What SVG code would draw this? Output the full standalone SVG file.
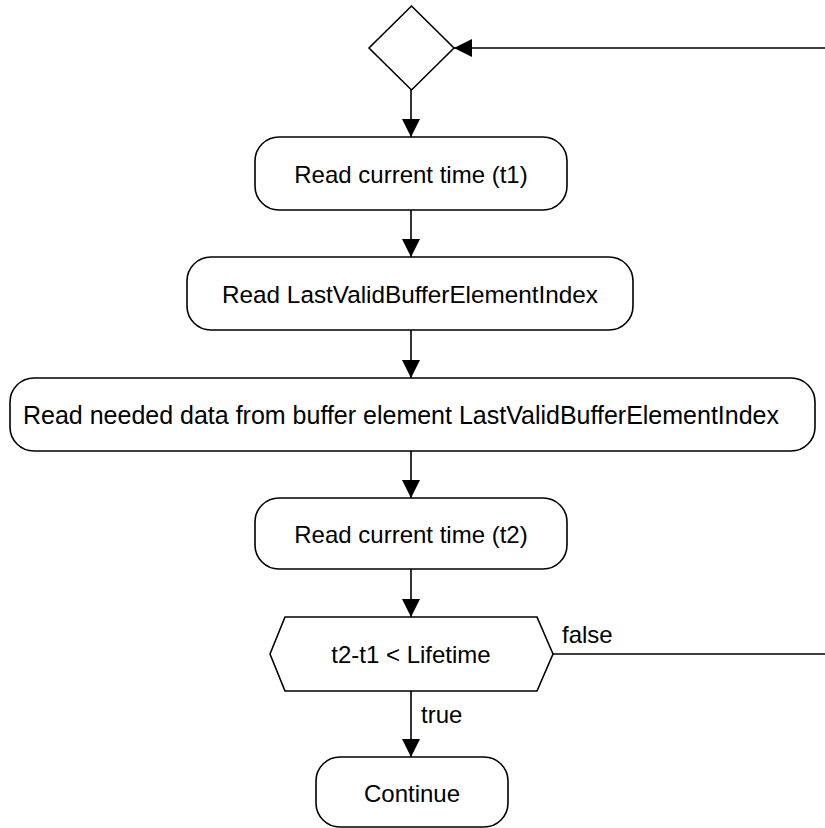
<svg xmlns="http://www.w3.org/2000/svg" width="825" height="828" viewBox="0 0 825 828">
  <style>
    .shape { fill: #ffffff; stroke: #000000; stroke-width: 1.6; }
    .edge { fill: none; stroke: #000000; stroke-width: 1.6; }
    .label { font-family: "Liberation Sans", Arial, sans-serif; font-size: 24px; fill: #000000; }
    .mid { text-anchor: middle; }
  </style>
  <defs>
    <marker id="arrow" viewBox="0 0 18 18" refX="18" refY="9" markerWidth="18" markerHeight="18" markerUnits="userSpaceOnUse" orient="auto">
      <path d="M0,0 L18,9 L0,18 Z" fill="#000000"/>
    </marker>
  </defs>

  <rect width="825" height="828" fill="#ffffff"/>

  <!-- connectors -->
  <g id="connectors">
    <line class="edge" x1="411" y1="90" x2="411" y2="137" marker-end="url(#arrow)"/>
    <line class="edge" x1="411" y1="210" x2="411" y2="257" marker-end="url(#arrow)"/>
    <line class="edge" x1="411" y1="330" x2="411" y2="378" marker-end="url(#arrow)"/>
    <line class="edge" x1="411" y1="451" x2="411" y2="498" marker-end="url(#arrow)"/>
    <line class="edge" x1="411" y1="569" x2="411" y2="617" marker-end="url(#arrow)"/>
    <line class="edge" x1="411" y1="691" x2="411" y2="757" marker-end="url(#arrow)"/>
    <!-- loop back: false branch leaves to the right, returns into the merge diamond -->
    <line class="edge" x1="553" y1="654" x2="826" y2="654"/>
    <line class="edge" x1="826" y1="48" x2="454" y2="48" marker-end="url(#arrow)"/>
    <text class="label" x="562" y="643">false</text>
    <text class="label" x="421" y="723">true</text>
  </g>

  <g id="merge">
    <polygon class="shape" points="411.5,6 454,48 411.5,90 369,48"/>
  </g>

  <g id="read-t1">
    <rect class="shape" x="255" y="137" width="312" height="73" rx="24" ry="24"/>
    <text class="label mid" x="411" y="183">Read current time (t1)</text>
  </g>

  <g id="read-index">
    <rect class="shape" x="187" y="257" width="446" height="73" rx="24" ry="24"/>
    <text class="label mid" x="410" y="303" style="font-size:24.3px">Read LastValidBufferElementIndex</text>
  </g>

  <g id="read-data">
    <rect class="shape" x="10" y="378" width="805" height="73" rx="24" ry="24"/>
    <text class="label mid" x="401" y="424" style="font-size:25px">Read needed data from buffer element LastValidBufferElementIndex</text>
  </g>

  <g id="read-t2">
    <rect class="shape" x="255" y="498" width="312" height="71" rx="24" ry="24"/>
    <text class="label mid" x="411" y="543">Read current time (t2)</text>
  </g>

  <g id="check-lifetime">
    <polygon class="shape" points="270,654 285,617 537,617 553,654 537,691 285,691"/>
    <text class="label mid" x="411" y="663">t2-t1 &lt; Lifetime</text>
  </g>

  <g id="continue">
    <rect class="shape" x="316" y="757" width="192" height="70" rx="24" ry="24"/>
    <text class="label mid" x="412" y="802">Continue</text>
  </g>
</svg>
